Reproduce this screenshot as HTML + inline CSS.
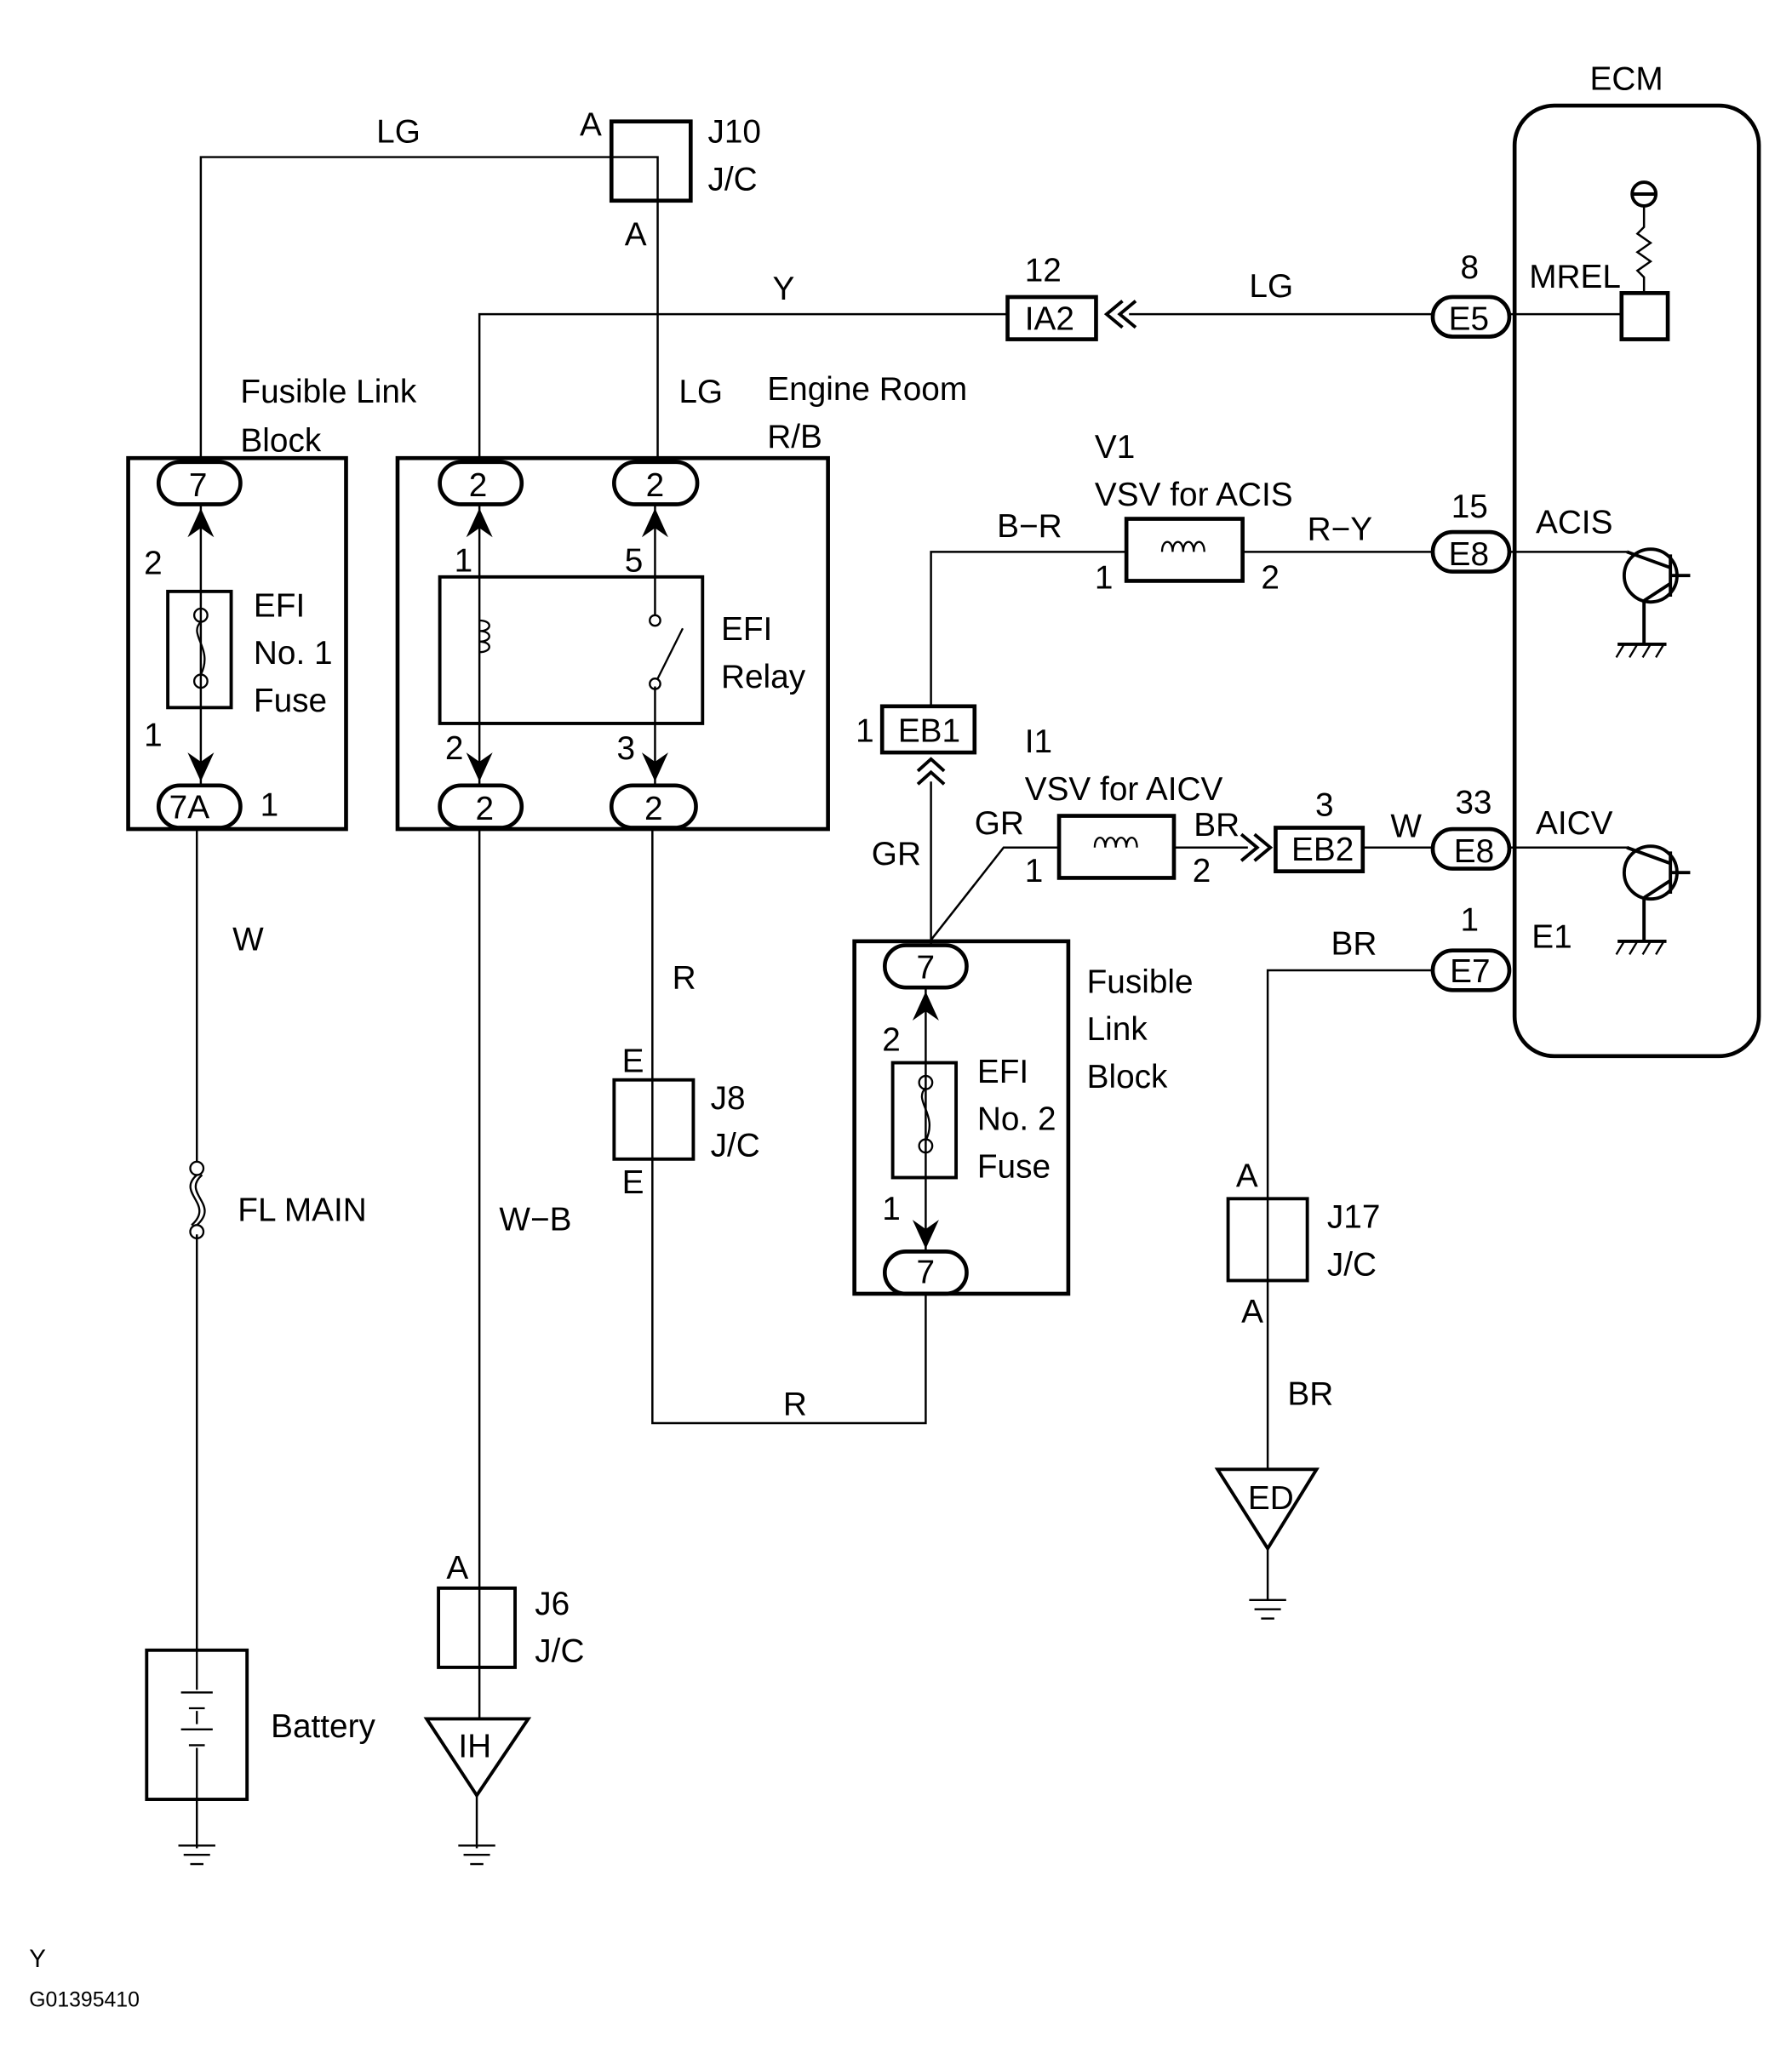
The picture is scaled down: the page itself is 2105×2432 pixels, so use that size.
<!DOCTYPE html>
<html><head><meta charset="utf-8"><style>
html,body{margin:0;padding:0;background:#fff}
svg{display:block}
text{font-family:"Liberation Sans",sans-serif;font-size:25px;fill:#000}
</style></head><body>
<svg width="2105" height="2432" viewBox="0 0 1357 1568" xmlns="http://www.w3.org/2000/svg">
<g fill="none" stroke="#000" stroke-width="1.6">
<polyline points="152,350 152,119 498,119 498,350"/>
<polyline points="363,350 363,238 763,238"/>
<line x1="855" y1="238" x2="1085" y2="238"/>
<line x1="1143" y1="238" x2="1228" y2="238"/>
<polyline points="1245,222 1245,210 1240,205 1250,198 1240,191 1250,184 1240,177 1245,172 1245,156"/>
<polyline points="705,535 705,418 853,418"/>
<line x1="941" y1="418" x2="1085" y2="418"/>
<polyline points="1143,418 1232,418"/>
<line x1="705" y1="592" x2="705" y2="716"/>
<polyline points="705,712 760,642 802,642"/>
<line x1="889" y1="642" x2="945" y2="642"/>
<line x1="1032" y1="642" x2="1085" y2="642"/>
<line x1="1143" y1="642" x2="1232" y2="642"/>
<polyline points="494,628 494,1078 701,1078 701,980"/>
<line x1="363" y1="628" x2="363" y2="1302"/>
<line x1="149" y1="628" x2="149" y2="880"/>
<line x1="149" y1="935" x2="149" y2="1250"/>
<polyline points="1085,735 960,735 960,1113"/>
<line x1="960" y1="1173" x2="960" y2="1212"/>
<line x1="361" y1="1360" x2="361" y2="1400"/>
<line x1="149" y1="1363" x2="149" y2="1400"/>
<line x1="152" y1="382" x2="152" y2="595"/>
<line x1="363" y1="382" x2="363" y2="595"/>
<line x1="496" y1="382" x2="496" y2="466"/>
<line x1="496" y1="520" x2="496" y2="595"/>
<line x1="701" y1="748" x2="701" y2="948"/>
</g>
<g fill="none" stroke="#000" stroke-width="3">
<rect x="1147" y="80" width="185" height="720" rx="30"/>
<rect x="97" y="347" width="165" height="281"/>
<rect x="301" y="347" width="326" height="281"/>
<rect x="647" y="713" width="162" height="267"/>
<rect x="463" y="92" width="60" height="60"/>
<rect x="763" y="225" width="67" height="32"/>
<rect x="1228" y="222" width="35" height="35"/>
<rect x="853" y="393" width="88" height="47"/>
<rect x="668" y="535" width="70" height="35"/>
<rect x="802" y="618" width="87" height="47"/>
<rect x="966" y="627" width="66" height="33"/>
<rect x="127" y="448" width="48" height="88" stroke-width="2.5"/>
<rect x="333" y="437" width="199" height="111" stroke-width="2.5"/>
<rect x="676" y="805" width="48" height="87" stroke-width="2.5"/>
<rect x="465" y="818" width="60" height="60" stroke-width="2.5"/>
<rect x="930" y="908" width="60" height="62" stroke-width="2.5"/>
<rect x="332" y="1203" width="58" height="60" stroke-width="2.5"/>
<rect x="111" y="1250" width="76" height="113" stroke-width="2.5"/>
<rect x="120" y="350" width="62" height="32" rx="16"/>
<rect x="120" y="595" width="62" height="32" rx="16"/>
<rect x="333" y="350" width="62" height="32" rx="16"/>
<rect x="465" y="350" width="63" height="32" rx="16"/>
<rect x="333" y="595" width="62" height="32" rx="16"/>
<rect x="463" y="595" width="64" height="32" rx="16"/>
<rect x="670" y="716" width="62" height="32" rx="16"/>
<rect x="670" y="948" width="62" height="32" rx="16"/>
<rect x="1085" y="225" width="58" height="30" rx="15"/>
<rect x="1085" y="403" width="58" height="30" rx="15"/>
<rect x="1085" y="628" width="58" height="30" rx="15"/>
<rect x="1085" y="720" width="58" height="30" rx="15"/>
<polygon points="323,1302 400,1302 361,1360" stroke-width="2.5"/>
<polygon points="922,1113 997,1113 960,1173" stroke-width="2.5"/>
</g>
<g fill="none" stroke="#000" stroke-width="2.5">
<polyline points="850,228 838,238 850,248"/><polyline points="860,228 848,238 860,248"/>
<polyline points="940,632 952,642 940,652"/><polyline points="950,632 962,642 950,652"/>
<polyline points="695,584 705,575 715,584"/><polyline points="695,594 705,585 715,594"/>
<circle cx="1245" cy="147" r="9"/>
<line x1="1235" y1="147" x2="1255" y2="147"/>
<circle cx="1250" cy="436" r="20"/><circle cx="1250" cy="661" r="20"/>
<line x1="1265" y1="420" x2="1265" y2="452"/><line x1="1265" y1="645" x2="1265" y2="677"/>
<line x1="1232" y1="418" x2="1265" y2="430"/><line x1="1265" y1="442" x2="1245" y2="455"/><line x1="1245" y1="455" x2="1245" y2="488"/>
<line x1="1232" y1="642" x2="1265" y2="654"/><line x1="1265" y1="667" x2="1245" y2="680"/><line x1="1245" y1="680" x2="1245" y2="713"/>
<line x1="1265" y1="436" x2="1280" y2="436"/><line x1="1265" y1="661" x2="1280" y2="661"/>
<line x1="1225" y1="488" x2="1262" y2="488"/><line x1="1225" y1="713" x2="1262" y2="713"/>
<path d="M1230 488l-6 10M1240 488l-6 10M1250 488l-6 10M1260 488l-6 10M1230 713l-6 10M1240 713l-6 10M1250 713l-6 10M1260 713l-6 10" stroke-width="1.5"/>
<path d="M135 1398h28M139 1405h20M144 1412h10M347 1398h28M351 1405h20M356 1412h10M946 1212h28M950 1219h20M955 1226h10" stroke-width="1.5"/>
<path d="M880 418c0-10 8-10 8 0c0-10 8-10 8 0c0-10 8-10 8 0c0-10 8-10 8 0M829 642c0-10 8-10 8 0c0-10 8-10 8 0c0-10 8-10 8 0c0-10 8-10 8 0" stroke-width="1.5"/>
<path d="M363 470c10 0 10 8 0 8c10 0 10 8 0 8c10 0 10 8 0 8" stroke-width="1.5"/>
<circle cx="496" cy="470" r="4" stroke-width="1.5"/><circle cx="496" cy="518" r="4" stroke-width="1.5"/>
<line x1="498" y1="514" x2="517" y2="476" stroke-width="1.5"/>
<circle cx="152" cy="466" r="5" stroke-width="1.5"/><circle cx="152" cy="516" r="5" stroke-width="1.5"/>
<path d="M152 471c-10 10 10 20 0 40M701 824c-10 10 10 20 0 40" stroke-width="1.5"/>
<circle cx="701" cy="820" r="5" stroke-width="1.5"/><circle cx="701" cy="868" r="5" stroke-width="1.5"/>
<circle cx="149" cy="885" r="5" stroke-width="1.5"/><circle cx="149" cy="933" r="5" stroke-width="1.5"/>
<path d="M149 890c-16 14 14 22 -4 38M153 890c-16 14 14 22 -4 38" stroke-width="1.5"/>
<path d="M149 1250v30M137 1282h24M143 1294h12M149 1296v10M137 1310h24M143 1322h12M149 1324v39" stroke-width="1.5"/>
</g>
<g fill="#000">
<path d="M142 407l10-22 10 22-10-7z"/><path d="M142 570l10 22 10-22-10 7z"/>
<path d="M353 407l10-22 10 22-10-7z"/><path d="M486 407l10-22 10 22-10-7z"/>
<path d="M353 570l10 22 10-22-10 7z"/><path d="M486 570l10 22 10-22-10 7z"/>
<path d="M691 773l10-22 10 22-10-7z"/><path d="M691 924l10 22 10-22-10 7z"/>
</g>
<g>
<text x="1204" y="68">ECM</text>
<text x="285" y="108">LG</text><text x="439" y="103">A</text>
<text x="536" y="108">J10</text><text x="536" y="144">J/C</text><text x="473" y="186">A</text>
<text x="776" y="213">12</text><text x="776" y="250">IA2</text>
<text x="585" y="227">Y</text><text x="946" y="225">LG</text>
<text x="1106" y="211">8</text><text x="1097" y="250">E5</text><text x="1158" y="218">MREL</text>
<text x="182" y="305">Fusible Link</text><text x="182" y="342">Block</text>
<text x="514" y="305">LG</text><text x="581" y="303">Engine Room</text><text x="581" y="339">R/B</text>
<text x="143" y="376">7</text><text x="355" y="376">2</text><text x="489" y="376">2</text>
<text x="829" y="347">V1</text><text x="829" y="383">VSV for ACIS</text>
<text x="755" y="407">B−R</text><text x="990" y="409">R−Y</text>
<text x="1099" y="392">15</text><text x="1097" y="428">E8</text><text x="1163" y="404">ACIS</text>
<text x="829" y="446">1</text><text x="955" y="446">2</text>
<text x="109" y="435">2</text><text x="192" y="467">EFI</text><text x="192" y="503">No. 1</text><text x="192" y="539">Fuse</text>
<text x="344" y="433">1</text><text x="473" y="433">5</text><text x="546" y="485">EFI</text><text x="546" y="521">Relay</text>
<text x="109" y="565">1</text><text x="337" y="575">2</text><text x="467" y="575">3</text>
<text x="128" y="620">7A</text><text x="197" y="618">1</text>
<text x="360" y="621">2</text><text x="488" y="621">2</text>
<text x="648" y="562">1</text><text x="680" y="562">EB1</text>
<text x="776" y="570">I1</text><text x="776" y="606">VSV for AICV</text>
<text x="738" y="632">GR</text><text x="904" y="633">BR</text><text x="660" y="655">GR</text>
<text x="776" y="668">1</text><text x="903" y="668">2</text>
<text x="996" y="618">3</text><text x="978" y="652">EB2</text><text x="1053" y="634">W</text>
<text x="1102" y="616">33</text><text x="1101" y="653">E8</text><text x="1163" y="632">AICV</text>
<text x="1106" y="705">1</text><text x="1008" y="723">BR</text><text x="1098" y="744">E7</text><text x="1160" y="718">E1</text>
<text x="176" y="720">W</text><text x="509" y="749">R</text>
<text x="694" y="741">7</text><text x="823" y="752">Fusible</text><text x="823" y="788">Link</text><text x="823" y="824">Block</text>
<text x="668" y="796">2</text><text x="740" y="820">EFI</text><text x="740" y="856">No. 2</text><text x="740" y="892">Fuse</text>
<text x="668" y="924">1</text><text x="694" y="972">7</text>
<text x="471" y="812">E</text><text x="538" y="840">J8</text><text x="538" y="876">J/C</text><text x="471" y="904">E</text>
<text x="180" y="925">FL MAIN</text><text x="378" y="932">W−B</text>
<text x="936" y="899">A</text><text x="1005" y="930">J17</text><text x="1005" y="966">J/C</text><text x="940" y="1002">A</text>
<text x="975" y="1064">BR</text><text x="593" y="1072">R</text>
<text x="945" y="1143">ED</text>
<text x="338" y="1196">A</text><text x="405" y="1223">J6</text><text x="405" y="1259">J/C</text>
<text x="205" y="1316">Battery</text><text x="347" y="1331">IH</text>
<text x="22" y="1490" style="font-size:19px">Y</text>
<text x="22" y="1520" style="font-size:16px">G01395410</text>
</g>
</svg>
</body></html>
